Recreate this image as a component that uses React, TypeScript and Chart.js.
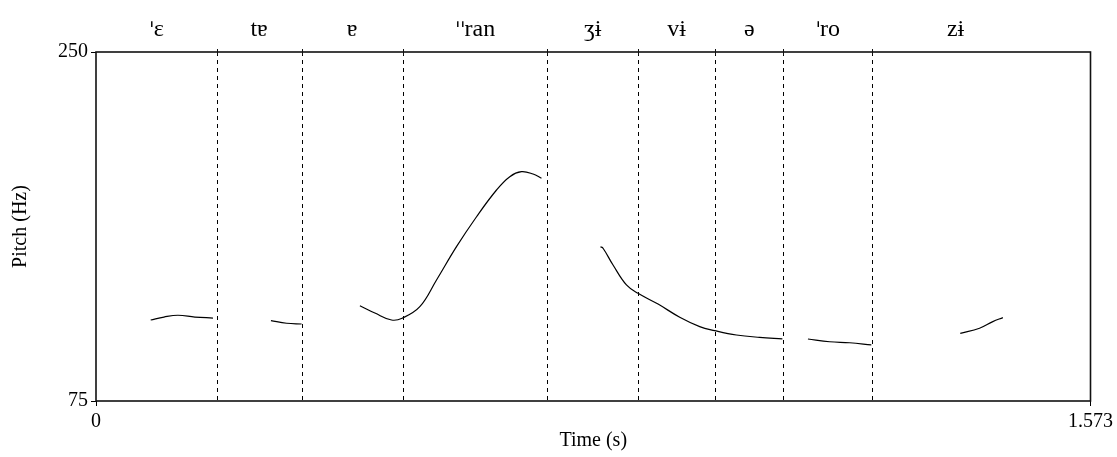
import React, { useEffect, useRef } from "react";
import { Chart, registerables } from "chart.js";

Chart.register(...registerables);

// Interval boundaries (s) and interval labels of the TextGrid tier
const boundaries = [0.1908, 0.3252, 0.4849, 0.7141, 0.8573, 0.9797, 1.0866, 1.2279];
const tierLabels = ["ˈɛ", "tɐ", "ɐ", "ˈˈran", "ʒɨ", "vɨ", "ə", "ˈro", "zɨ"];
const labelTimes = [0.0954, 0.258, 0.405, 0.5995, 0.7857, 0.9185, 1.0332, 1.1573, 1.3596];

// Axis ranges and tick labels
const timeTicks = [0, 1.573];
const pitchTicks = [75, 250];

// Pitch contour segments: time (s) and pitch (Hz)
const seg1Time = [0.0865, 0.1075, 0.1296, 0.1565, 0.185];
const seg1Hz = [115.6, 117.1, 118.0, 117.1, 116.6];

const seg2Time = [0.2767, 0.3015, 0.3252];
const seg2Hz = [115.3, 114.0, 113.6];

const seg3Time = [0.4174, 0.4411, 0.4675, 0.4842, 0.5122, 0.5386, 0.5702, 0.6019, 0.6335, 0.6545, 0.673, 0.6913, 0.7046];
const seg3Hz = [122.8, 119.1, 115.6, 116.5, 122.3, 135.7, 152.4, 167.4, 180.8, 187.5, 190.0, 188.8, 186.7];

const seg4Time = [0.7979, 0.802, 0.8178, 0.839, 0.8573, 0.889, 0.9233, 0.9549, 0.9786, 1.0129, 1.0497, 1.0856];
const seg4Hz = [152.4, 151.6, 143.2, 133.2, 129.0, 123.6, 117.0, 112.3, 110.3, 108.1, 106.9, 106.2];

const seg5Time = [1.1261, 1.1604, 1.192, 1.2263];
const seg5Hz = [106.1, 104.7, 104.2, 103.1];

const seg6Time = [1.367, 1.3975, 1.4185, 1.4344];
const seg6Hz = [108.9, 111.5, 114.8, 116.8];

const segments = [
  [seg1Time, seg1Hz],
  [seg2Time, seg2Hz],
  [seg3Time, seg3Hz],
  [seg4Time, seg4Hz],
  [seg5Time, seg5Hz],
  [seg6Time, seg6Hz],
];

const FONT = '"Liberation Serif", "Times New Roman", "DejaVu Serif", serif';
const LABEL_FONT = `24px ${FONT}`;
const STRESS_FONT = `22px "DejaVu Sans", sans-serif`;

function drawTierLabel(ctx: CanvasRenderingContext2D, text: string, cx: number, y: number) {
  const chars = Array.from(text);
  const widths = chars.map((c) => {
    ctx.font = c === "ˈ" ? STRESS_FONT : LABEL_FONT;
    return ctx.measureText(c).width * (c === "ˈ" ? 0.8 : 1);
  });
  const total = widths.reduce((a, b) => a + b, 0);
  let x = cx - total / 2;
  ctx.textAlign = "left";
  chars.forEach((c, i) => {
    ctx.font = c === "ˈ" ? STRESS_FONT : LABEL_FONT;
    ctx.fillText(c, x, c === "ˈ" ? y + 1 : y);
    x += widths[i];
  });
}

const decorPlugin = {
  id: "praatDecor",
  beforeDatasetsDraw(chart: any) {
    const { ctx, chartArea, scales } = chart;
    const x = scales.x;
    ctx.save();
    ctx.strokeStyle = "#000";
    ctx.lineWidth = 1;
    ctx.setLineDash([4, 4]);
    for (const b of boundaries) {
      const px = Math.round(x.getPixelForValue(b)) + 0.5;
      ctx.beginPath();
      ctx.moveTo(px, chartArea.top);
      ctx.lineTo(px, chartArea.bottom);
      ctx.stroke();
    }
    ctx.restore();
  },
  afterDraw(chart: any) {
    const { ctx, chartArea, scales } = chart;
    const x = scales.x;
    ctx.save();
    ctx.strokeStyle = "#111";
    ctx.lineWidth = 1.6;
    ctx.setLineDash([]);
    ctx.strokeRect(chartArea.left, chartArea.top, chartArea.right - chartArea.left, chartArea.bottom - chartArea.top);
    ctx.lineWidth = 1;
    for (const b of boundaries) {
      const px = Math.round(x.getPixelForValue(b)) + 0.5;
      ctx.beginPath();
      ctx.moveTo(px, chartArea.top - 3);
      ctx.lineTo(px, chartArea.top + 3);
      ctx.stroke();
    }
    ctx.fillStyle = "#000";
    ctx.textBaseline = "alphabetic";
    tierLabels.forEach((t, i) => {
      drawTierLabel(ctx, t, x.getPixelForValue(labelTimes[i]), 36);
    });
    ctx.restore();
  },
};

export default function App() {
  const ref = useRef<HTMLCanvasElement | null>(null);
  useEffect(() => {
    if (!ref.current) return;
    const chart = new Chart(ref.current, {
      type: "scatter",
      data: {
        datasets: segments.map(([ts, hz]) => ({
          data: ts.map((t, i) => ({ x: t, y: hz[i] })),
          showLine: true,
          borderColor: "#000",
          borderWidth: 1.2,
          pointRadius: 0,
          tension: 0.4,
          fill: false,
        })),
      },
      options: {
        animation: false,
        responsive: true,
        maintainAspectRatio: false,
        layout: { padding: { top: 52, right: 26, left: 0, bottom: 0 } },
        plugins: { legend: { display: false }, tooltip: { enabled: false } },
        scales: {
          x: {
            type: "linear",
            min: timeTicks[0],
            max: timeTicks[timeTicks.length - 1],
            afterBuildTicks: (s: any) => {
              s.ticks = timeTicks.map((v) => ({ value: v }));
            },
            afterFit: (s: any) => {
              s.height = 56;
            },
            ticks: {
              autoSkip: false,
              maxRotation: 0,
              color: "#000",
              padding: 4,
              font: { family: FONT, size: 20 },
              callback: (v: any) => String(v),
            },
            grid: { drawOnChartArea: false, drawTicks: true, tickLength: 5, color: "#000" },
            border: { display: false },
            title: {
              display: true,
              text: "Time (s)",
              color: "#000",
              font: { family: FONT, size: 20 },
              padding: { top: 0, bottom: 4 },
            },
          },
          y: {
            type: "linear",
            min: pitchTicks[0],
            max: pitchTicks[pitchTicks.length - 1],
            afterBuildTicks: (s: any) => {
              s.ticks = pitchTicks.map((v) => ({ value: v }));
            },
            afterFit: (s: any) => {
              s.width = 96;
            },
            ticks: {
              autoSkip: false,
              color: "#000",
              padding: 3,
              font: { family: FONT, size: 20 },
              callback: (v: any) => String(v),
            },
            grid: { drawOnChartArea: false, drawTicks: true, tickLength: 5, color: "#000" },
            border: { display: false },
            title: {
              display: true,
              text: "Pitch (Hz)",
              color: "#000",
              font: { family: FONT, size: 20 },
              padding: { top: 9, bottom: 0 },
            },
          },
        },
      },
      plugins: [decorPlugin],
    });
    return () => chart.destroy();
  }, []);
  return (
    <div style={{ position: "fixed", left: 0, top: 0, width: 1117, height: 457, background: "#fff" }}>
      <canvas ref={ref} />
    </div>
  );
}
